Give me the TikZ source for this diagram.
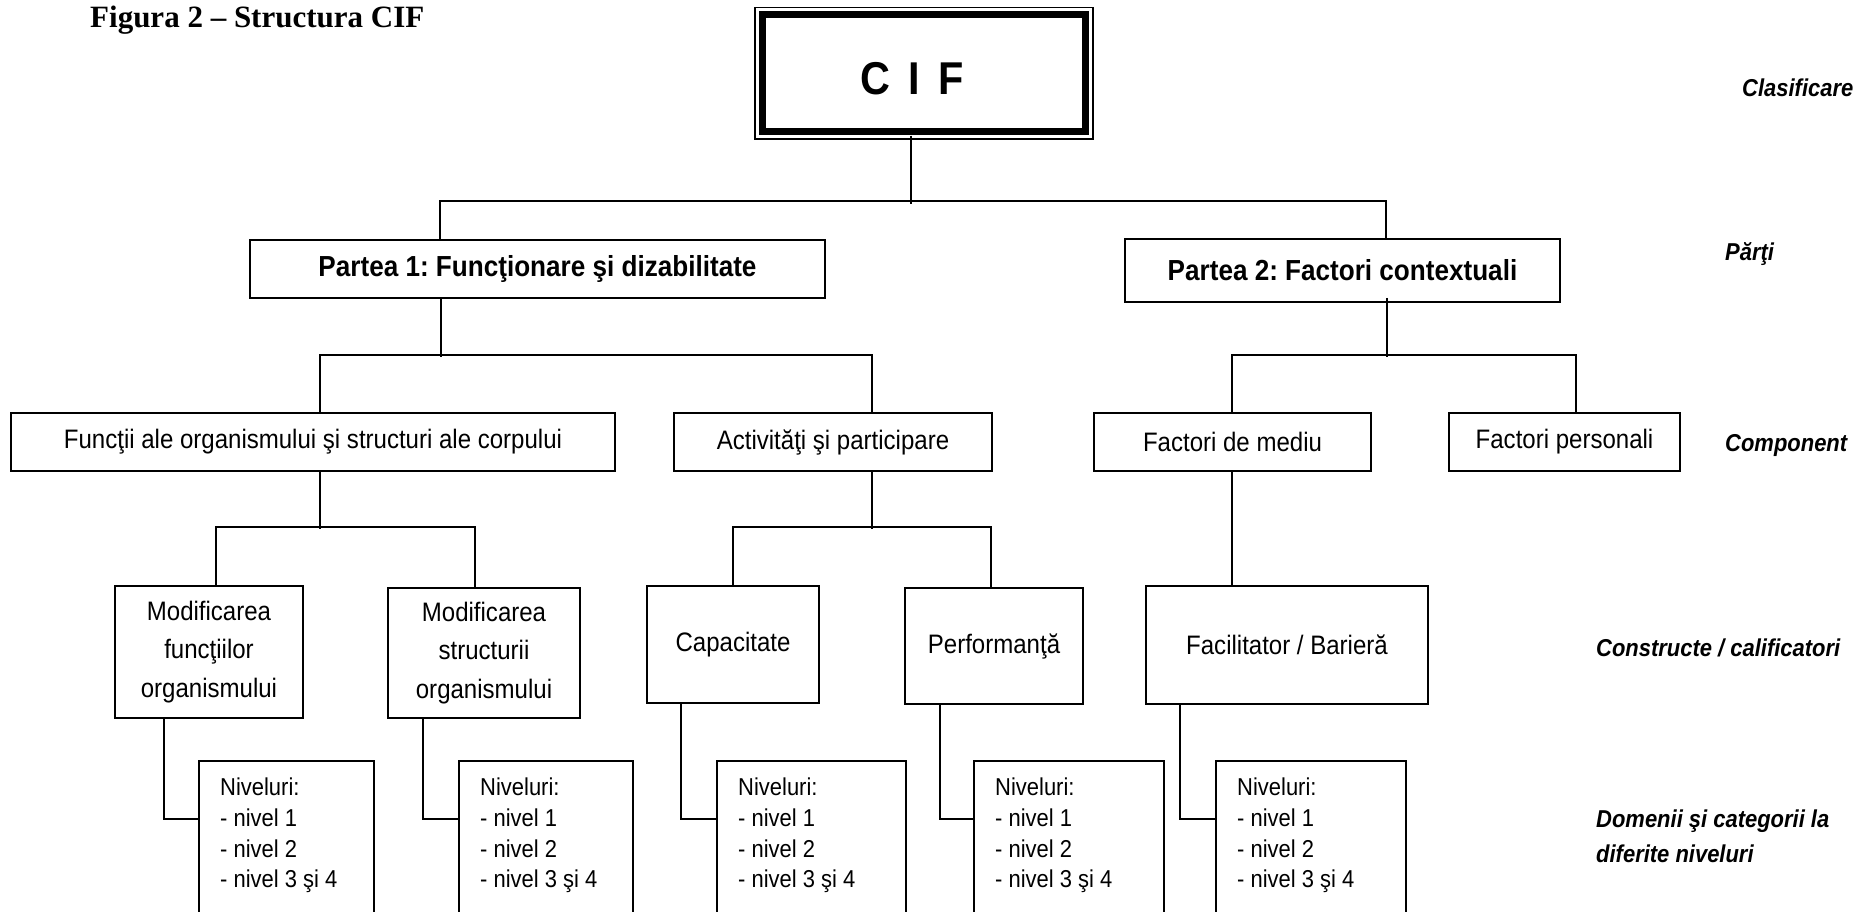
\documentclass[tikz,border=0pt]{standalone}
\usepackage{fontspec}
\setmainfont{Liberation Sans}[FakeStretch=0.9]
\newfontfamily\serifbf{Liberation Serif}
\frenchspacing
\begin{document}
\begin{tikzpicture}[x=1pt,y=-1pt,
  box/.style={draw, line width=1.8pt, inner sep=0pt, align=center},
  txtA/.style={font=\fontsize{26.7}{38.5}\selectfont},
  txtB/.style={font=\bfseries\fontsize{29}{32}\selectfont},
  nivbox/.style={draw, line width=1.8pt, inner sep=0pt, anchor=north west, minimum height=200pt},
  nivtxt/.style={font=\fontsize{24.4}{30.7}\selectfont, align=left, anchor=north west, inner sep=0pt},
  conn/.style={line width=1.5pt},
  lab/.style={font=\bfseries\itshape\fontsize{24.4}{35}\selectfont, inner sep=0pt, align=left}]
\useasboundingbox (0,0) rectangle (1867,912);
\clip (0,0) rectangle (1867,912);

% title
\node[font=\serifbf\bfseries\fontsize{31}{36}\selectfont, anchor=base west, inner sep=0pt] (title) at (90,28) {Figura 2 – Structura CIF};

% CIF
\node[draw, line width=1.5pt, inner sep=0pt, minimum width=338pt, minimum height=131.5pt] (cif) at (924,73.25) {};
\draw[line width=7pt] ([shift={(8pt,-8pt)}]cif.north west) rectangle ([shift={(-8pt,8pt)}]cif.south east);
\node[font=\bfseries\fontsize{46}{50}\selectfont, inner sep=0pt] (ciftext) at (912,79) {C\hspace{18pt}I\hspace{18pt}F};

% parts
\node[box, txtB, minimum width=575pt, minimum height=58pt] (p1) at (537.5,269) {Partea 1: Funcţionare şi dizabilitate};
\node[box, txtB, minimum width=435pt, minimum height=63pt] (p2) at (1342.5,270.5) {Partea 2: Factori contextuali};

% components
\node[box, txtA, minimum width=604pt, minimum height=58pt] (fn) at (313,442) {Funcţii ale organismului şi structuri ale corpului};
\node[box, txtA, minimum width=318pt, minimum height=58pt] (ac) at (833,442) {Activităţi şi participare};
\node[box, txtA, minimum width=277pt, minimum height=58pt] (fm) at (1232.5,442) {Factori de mediu};
\node[box, txtA, minimum width=231pt, minimum height=58pt] (fp) at (1564.5,442) {Factori personali};

% constructs
\node[box, txtA, minimum width=188pt, minimum height=132pt] (modf) at (209,652) {Modificarea\\funcţiilor\\organismului};
\node[box, txtA, minimum width=192pt, minimum height=130pt] (mods) at (484,653) {Modificarea\\structurii\\organismului};
\node[box, txtA, minimum width=172pt, minimum height=117pt] (cap) at (733,644.5) {Capacitate};
\node[box, txtA, minimum width=178pt, minimum height=116pt] (perf) at (994,646) {Performanţă};
\node[box, txtA, minimum width=282pt, minimum height=118pt] (fac) at (1287,645) {Facilitator / Barieră};

% levels
\node[nivbox, minimum width=175pt] (n1) at (198,760) {};
\node[nivbox, minimum width=174pt] (n2) at (458,760) {};
\node[nivbox, minimum width=189pt] (n3) at (716,760) {};
\node[nivbox, minimum width=190pt] (n4) at (973,760) {};
\node[nivbox, minimum width=190pt] (n5) at (1215,760) {};
\node[nivtxt] (nt1) at (220,778) {Niveluri:\\- nivel 1\\- nivel 2\\- nivel 3 şi 4};
\node[nivtxt] (nt2) at (480,778) {Niveluri:\\- nivel 1\\- nivel 2\\- nivel 3 şi 4};
\node[nivtxt] (nt3) at (738,778) {Niveluri:\\- nivel 1\\- nivel 2\\- nivel 3 şi 4};
\node[nivtxt] (nt4) at (995,778) {Niveluri:\\- nivel 1\\- nivel 2\\- nivel 3 şi 4};
\node[nivtxt] (nt5) at (1237,778) {Niveluri:\\- nivel 1\\- nivel 2\\- nivel 3 şi 4};

% right labels
\node[lab, anchor=base west] (lclas) at (1742,97) {Clasificare};
\node[lab, anchor=base west] (lparti) at (1725,260) {Părţi};
\node[lab, anchor=base west] (lcomp) at (1725,451) {Component};
\node[lab, anchor=base west] (lcons) at (1596,656) {Constructe / calificatori};
\node[lab, anchor=north west] (ldom) at (1596,810) {Domenii şi categorii la\\diferite niveluri};

% connectors
\draw[conn] ([xshift=-13pt,yshift=4pt]cif.south) -- ++(0,68);
\draw[conn] ([xshift=-97.5pt]p1.north) -- ++(0,-38) -| ([xshift=43.5pt]p2.north);
\draw[conn] ([xshift=-96.5pt]p1.south) -- ++(0,58);
\draw[conn] ([xshift=7pt]fn.north) -- ++(0,-57) -| ([xshift=39pt]ac.north);
\draw[conn] ([xshift=44.5pt,yshift=5pt]p2.south) -- ++(0,59);
\draw[conn] ([xshift=-0.5pt]fm.north) -- ++(0,-57) -| ([xshift=11.5pt]fp.north);
\draw[conn] ([xshift=7pt]fn.south) -- ++(0,57);
\draw[conn] ([xshift=7pt]modf.north) -- ++(0,-58) -| ([xshift=-9pt]mods.north);
\draw[conn] ([xshift=39pt]ac.south) -- ++(0,57);
\draw[conn] (cap.north) -- ++(0,-58) -| ([xshift=-3pt]perf.north);
\draw[conn] ([xshift=-0.5pt]fm.south) -- ++(0,115);
\draw[conn] ([xshift=50pt]modf.south west) |- ([yshift=-59pt]n1.north west);
\draw[conn] ([xshift=36pt]mods.south west) |- ([yshift=-59pt]n2.north west);
\draw[conn] ([xshift=35pt]cap.south west) |- ([yshift=-59pt]n3.north west);
\draw[conn] ([xshift=36pt]perf.south west) |- ([yshift=-59pt]n4.north west);
\draw[conn] ([xshift=35pt]fac.south west) |- ([yshift=-59pt]n5.north west);
\end{tikzpicture}
\end{document}
